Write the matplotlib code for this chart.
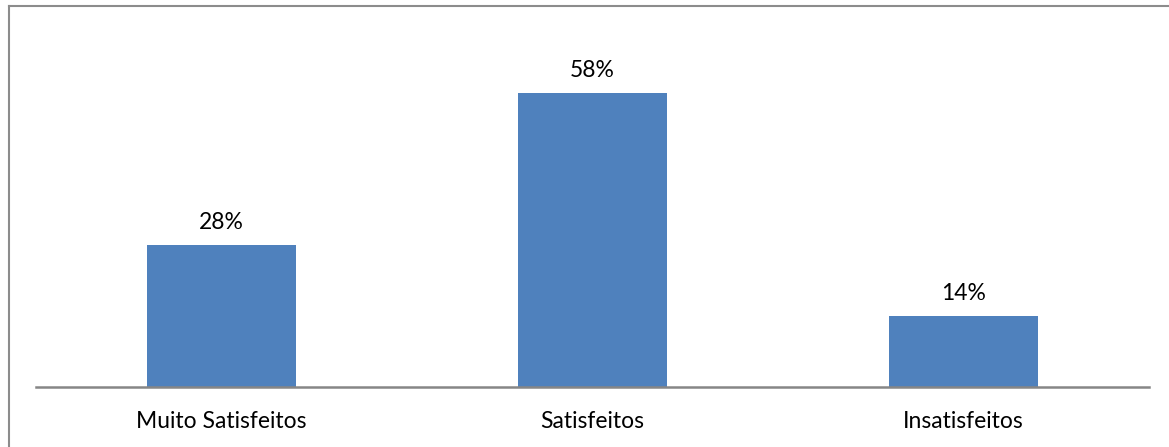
import matplotlib
matplotlib.use("Agg")
import matplotlib.pyplot as plt
from matplotlib.lines import Line2D

categories = ["Muito Satisfeitos", "Satisfeitos", "Insatisfeitos"]
values = [0.28, 0.58, 0.14]
labels = ["28%", "58%", "14%"]

plt.rcParams['font.family'] = ['Lato', 'DejaVu Sans']

W, H = 1169, 447
fig = plt.figure(figsize=(W/100, H/100), dpi=100)
left, right, base = 36, 1149, 387
ymax = 0.7
top = base - ymax * 506.9
ax = fig.add_axes([left/W, (H-base)/H, (right-left)/W, (base-top)/H])

x = range(len(categories))
ax.bar(x, values, width=0.4, color="#4F81BD")
ax.set_xlim(-0.5, 2.5)
ax.set_ylim(0, ymax)
for xi, v, lab in zip(x, values, labels):
    ax.text(xi, v + 0.045, lab, ha="center", va="center", fontsize=16.5, color="black")

for s in ["top", "right", "left"]:
    ax.spines[s].set_visible(False)
ax.spines["bottom"].set_color("#868686")
ax.spines["bottom"].set_linewidth(1.8)
ax.set_yticks([])
ax.set_xticks(list(x))
ax.set_xticklabels(categories, fontsize=16.5)
ax.tick_params(axis="x", length=0, pad=17)

# outer chart border (top and left visible)
fig.add_artist(Line2D([8.5/W, 8.5/W], [0, 1 - 5.5/H], transform=fig.transFigure, color="#8C8C8C", lw=1.5))
fig.add_artist(Line2D([8.5/W, 1168/W], [1 - 5.5/H, 1 - 5.5/H], transform=fig.transFigure, color="#8C8C8C", lw=1.5))

fig.savefig("out.png", dpi=100)
